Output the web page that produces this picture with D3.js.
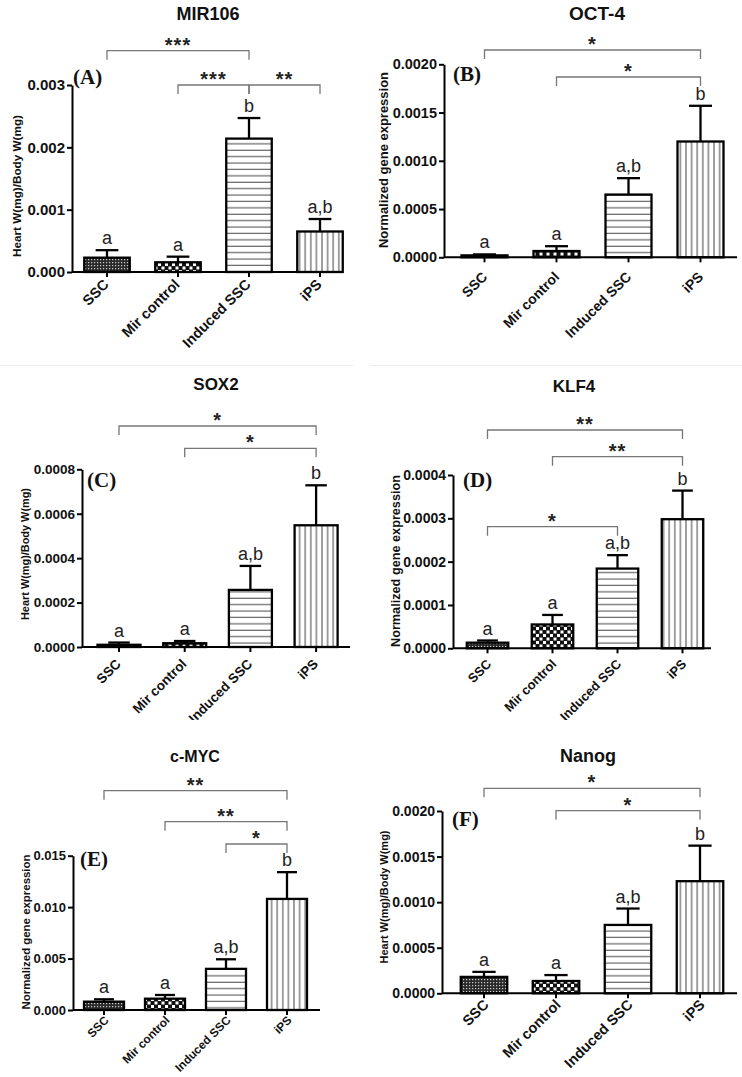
<!DOCTYPE html>
<html><head><meta charset="utf-8">
<script src="https://cdn.jsdelivr.net/npm/d3@7"></script>
<style>body{margin:0;background:#fff}svg{display:block}</style>
</head><body>
<svg id="chart" width="742" height="1077"></svg>
<script>
// ---------- data ----------
const categories = ["SSC", "Mir control", "Induced SSC", "iPS"];
const titles = ["MIR106", "OCT-4", "SOX2", "KLF4", "c-MYC", "Nanog"];
const panelTags = ["(A)", "(B)", "(C)", "(D)", "(E)", "(F)"];
const yTitles = ["Heart W(mg)/Body W(mg)", "Normalized gene expression", "Heart W(mg)/Body W(mg)",
                 "Normalized gene expression", "Normalized gene expression", "Heart W(mg)/Body W(mg)"];

const mir106Mean = [0.00023, 0.000156, 0.00214, 0.00065];
const mir106Sem  = [0.00012, 0.00009, 0.00033, 0.0002];
const oct4Mean   = [0.00002, 0.000065, 0.00065, 0.0012];
const oct4Sem    = [0.00001, 0.00005, 0.00017, 0.00037];
const sox2Mean   = [0.00001, 0.000017, 0.000257, 0.000548];
const sox2Sem    = [0.00001, 0.00001, 0.000108, 0.00018];
const klf4Mean   = [0.000013, 0.000055, 0.000184, 0.000298];
const klf4Sem    = [0.000005, 0.000022, 0.000031, 0.000066];
const cmycMean   = [0.00081, 0.0011, 0.004, 0.0108];
const cmycSem    = [0.00023, 0.00036, 0.00093, 0.0026];
const nanogMean  = [0.00018, 0.000135, 0.00075, 0.00123];
const nanogSem   = [0.000055, 0.000065, 0.00018, 0.00039];

const lettersA = ["a", "a", "b", "a,b"];
const lettersOther = ["a", "a", "a,b", "b"];

const ticksA = [0, 0.001, 0.002, 0.003];
const ticksB = [0, 0.0005, 0.001, 0.0015, 0.002];
const ticksC = [0, 0.0002, 0.0004, 0.0006, 0.0008];
const ticksD = [0, 0.0001, 0.0002, 0.0003, 0.0004];
const ticksE = [0, 0.005, 0.01, 0.015];
const ticksF = [0, 0.0005, 0.001, 0.0015, 0.002];

// [from index, to index, stars]
const bracketsA = [[0, 2, "***"], [1, 2, "***"], [2, 3, "**"]];
const bracketsB = [[0, 3, "*"], [1, 3, "*"]];
const bracketsC = [[0, 3, "*"], [1, 3, "*"]];
const bracketsD = [[0, 3, "**"], [1, 3, "**"], [0, 2, "*"]];
const bracketsE = [[0, 3, "**"], [1, 3, "**"], [2, 3, "*"]];
const bracketsF = [[0, 3, "*"], [1, 3, "*"]];

const panels = [
  {mean: mir106Mean, sem: mir106Sem, letters: lettersA, ticks: ticksA, fmt: ".3f", brackets: bracketsA},
  {mean: oct4Mean, sem: oct4Sem, letters: lettersOther, ticks: ticksB, fmt: ".4f", brackets: bracketsB},
  {mean: sox2Mean, sem: sox2Sem, letters: lettersOther, ticks: ticksC, fmt: ".4f", brackets: bracketsC},
  {mean: klf4Mean, sem: klf4Sem, letters: lettersOther, ticks: ticksD, fmt: ".4f", brackets: bracketsD},
  {mean: cmycMean, sem: cmycSem, letters: lettersOther, ticks: ticksE, fmt: ".3f", brackets: bracketsE},
  {mean: nanogMean, sem: nanogSem, letters: lettersOther, ticks: ticksF, fmt: ".4f", brackets: bracketsF}
];

// ---------- layout (pixel geometry) ----------
const layout = [
  {x0:72, x1:343, c0:107, step:71, bw:45.5, yZero:272, yTop:85, tickFs:15, labFs:14.5, labDx:-0.9, labDy:9.8,
   titleX:208, titleY:20, titleFs:18, tagX:73, tagY:84, ytX:17, ytY:186, ytLen:142, ytFs:11.5, brY:[50.7, 85, 85]},
  {x0:444, x1:737, c0:484.5, step:72, bw:46, yZero:257.3, yTop:64.3, tickFs:14.5, labFs:14, labDx:0.2, labDy:17,
   titleX:597, titleY:20, titleFs:19, tagX:453, tagY:81, ytX:383, ytY:160, ytLen:176, ytFs:13, brY:[50, 77]},
  {x0:82, x1:350, c0:119, step:65.7, bw:43, yZero:647, yTop:469.3, tickFs:13.5, labFs:13.5, labDx:-0.6, labDy:14.5,
   titleX:216, titleY:390, titleFs:17, tagX:87, tagY:487, ytX:25, ytY:554, ytLen:132, ytFs:10.8, brY:[426, 448.3]},
  {x0:453, x1:711, c0:487.5, step:65, bw:41.5, yZero:648.3, yTop:475, tickFs:14, labFs:13, labDx:1.5, labDy:13.4,
   titleX:574, titleY:391.5, titleFs:17, tagX:463, tagY:487, ytX:395.5, ytY:561, ytLen:172, ytFs:12.7, brY:[430, 456.7, 526.7]},
  {x0:73, x1:320, c0:104, step:61, bw:40, yZero:1010, yTop:855.7, tickFs:13, labFs:11.8, labDx:2.5, labDy:8.1,
   titleX:195, titleY:761.5, titleFs:16, tagX:80, tagY:866, ytX:26.5, ytY:932, ytLen:155, ytFs:11.4, brY:[790.7, 821.7, 844]},
  {x0:442, x1:737, c0:484, step:72, bw:46.5, yZero:993.3, yTop:811, tickFs:14, labFs:14.5, labDx:2, labDy:8.8,
   titleX:588, titleY:762, titleFs:18, tagX:452, tagY:826, ytX:384.5, ytY:897, ytLen:133, ytFs:10.8, brY:[788.3, 810.7]}
];

const SANS = "'Liberation Sans', Arial, sans-serif";
const SERIF = "'Liberation Serif', 'Times New Roman', serif";

const svg = d3.select("#chart");
const defs = svg.append("defs");

// patterns
const pSSC = defs.append("pattern").attr("id", "pat0").attr("patternUnits", "userSpaceOnUse").attr("width", 3).attr("height", 3);
pSSC.append("rect").attr("width", 3).attr("height", 3).attr("fill", "#2a2a2a");
pSSC.append("rect").attr("x", 1).attr("y", 1).attr("width", 1.2).attr("height", 1.2).attr("fill", "#cfcfcf");

const pMir = defs.append("pattern").attr("id", "pat1").attr("patternUnits", "userSpaceOnUse").attr("width", 7).attr("height", 7);
pMir.append("rect").attr("width", 7).attr("height", 7).attr("fill", "#111");
pMir.append("rect").attr("x", 0.5).attr("y", 0.5).attr("width", 3).attr("height", 3).attr("fill", "#fff");
pMir.append("rect").attr("x", 4).attr("y", 4).attr("width", 3).attr("height", 3).attr("fill", "#fff");

const pInd = defs.append("pattern").attr("id", "pat2").attr("patternUnits", "userSpaceOnUse").attr("width", 10).attr("height", 6.4);
pInd.append("rect").attr("width", 10).attr("height", 6.4).attr("fill", "#fff");
pInd.append("line").attr("x1", 0).attr("x2", 10).attr("y1", 3).attr("y2", 3).attr("stroke", "#444").attr("stroke-width", 1);

const pIps = defs.append("pattern").attr("id", "pat3").attr("patternUnits", "userSpaceOnUse").attr("width", 5.6).attr("height", 10);
pIps.append("rect").attr("width", 5.6).attr("height", 10).attr("fill", "#fff");
pIps.append("line").attr("y1", 0).attr("y2", 10).attr("x1", 2.8).attr("x2", 2.8).attr("stroke", "#444").attr("stroke-width", 1);

defs.append("clipPath").attr("id", "row2clip").append("rect").attr("x", 0).attr("y", 366).attr("width", 742).attr("height", 354);

// faint separator line at top of second row
svg.append("line").attr("x1", 0).attr("x2", 353).attr("y1", 365.5).attr("y2", 365.5).attr("stroke", "#ececec").attr("stroke-width", 1);
svg.append("line").attr("x1", 371).attr("x2", 742).attr("y1", 365.5).attr("y2", 365.5).attr("stroke", "#ececec").attr("stroke-width", 1);

panels.forEach((p, i) => {
  const L = layout[i];
  const g = svg.append("g");
  if (i === 2 || i === 3) g.attr("clip-path", "url(#row2clip)");

  const pi = 1 - L.bw / L.step;
  const x = d3.scaleBand().domain(categories)
    .range([L.c0 - L.step / 2, L.c0 - L.step / 2 + 4 * L.step])
    .paddingInner(pi).paddingOuter(pi / 2);
  const y = d3.scaleLinear().domain([0, p.ticks[p.ticks.length - 1]]).range([L.yZero, L.yTop]);
  const cx = c => x(c) + x.bandwidth() / 2;

  // bars
  g.selectAll("rect.bar").data(categories).join("rect")
    .attr("class", "bar")
    .attr("x", c => x(c))
    .attr("width", x.bandwidth())
    .attr("y", (c, k) => y(p.mean[k]))
    .attr("height", (c, k) => L.yZero - y(p.mean[k]))
    .attr("fill", (c, k) => `url(#pat${k})`)
    .attr("stroke", "#000").attr("stroke-width", 2.3);

  // error bars
  const eb = g.selectAll("g.err").data(categories).join("g").attr("class", "err");
  eb.append("line")
    .attr("x1", c => cx(c)).attr("x2", c => cx(c))
    .attr("y1", (c, k) => y(p.mean[k])).attr("y2", (c, k) => y(p.mean[k] + p.sem[k]))
    .attr("stroke", "#000").attr("stroke-width", 2.3);
  eb.append("line")
    .attr("x1", c => cx(c) - x.bandwidth() / 4).attr("x2", c => cx(c) + x.bandwidth() / 4)
    .attr("y1", (c, k) => y(p.mean[k] + p.sem[k])).attr("y2", (c, k) => y(p.mean[k] + p.sem[k]))
    .attr("stroke", "#000").attr("stroke-width", 2.3);

  // significance letters
  g.selectAll("text.letter").data(categories).join("text")
    .attr("class", "letter")
    .attr("x", c => cx(c))
    .attr("y", (c, k) => y(p.mean[k] + p.sem[k]) - 6)
    .attr("text-anchor", "middle")
    .style("font-family", SANS).style("font-size", "18px").attr("fill", "#222")
    .text((c, k) => p.letters[k]);

  // y axis
  const ya = g.append("g").attr("transform", `translate(${L.x0},0)`)
    .call(d3.axisLeft(y).tickValues(p.ticks).tickFormat(d3.format(p.fmt)).tickSize(5).tickSizeOuter(0).tickPadding(2));
  ya.select(".domain").attr("stroke-width", 2);
  ya.selectAll(".tick line").attr("stroke-width", 2);
  ya.selectAll(".tick text").style("font-family", SANS).style("font-weight", "bold")
    .style("font-size", L.tickFs + "px").attr("fill", "#111");

  // x axis
  const xa = g.append("g").attr("transform", `translate(0,${L.yZero})`)
    .call(d3.axisBottom(x).tickSize(5).tickSizeOuter(0));
  xa.select(".domain").attr("d", `M${L.x0},0H${L.x1}`).attr("stroke-width", 2);
  xa.selectAll(".tick line").attr("stroke-width", 2);
  xa.selectAll(".tick text")
    .attr("x", 0).attr("y", 0).attr("dy", "0.35em")
    .attr("transform", `translate(${L.labDx},${L.labDy}) rotate(-45)`)
    .style("text-anchor", "end")
    .style("font-family", SANS).style("font-weight", "bold")
    .style("font-size", L.labFs + "px").attr("fill", "#111");

  // y axis title
  g.append("text")
    .attr("transform", `translate(${L.ytX + L.ytFs * 0.35},${L.ytY}) rotate(-90)`)
    .attr("text-anchor", "middle")
    .attr("textLength", L.ytLen).attr("lengthAdjust", "spacingAndGlyphs")
    .style("font-family", SANS).style("font-weight", "bold").style("font-size", L.ytFs + "px")
    .attr("fill", "#111")
    .text(yTitles[i]);

  // title
  g.append("text").attr("x", L.titleX).attr("y", L.titleY).attr("text-anchor", "middle")
    .style("font-family", SANS).style("font-weight", "bold").style("font-size", L.titleFs + "px")
    .attr("fill", "#111").text(titles[i]);

  // panel tag
  g.append("text").attr("x", L.tagX).attr("y", L.tagY)
    .style("font-family", SERIF).style("font-weight", "bold").style("font-size", "21px")
    .attr("fill", "#111").text(panelTags[i]);

  // significance brackets
  p.brackets.forEach((b, j) => {
    const xa1 = cx(categories[b[0]]), xa2 = cx(categories[b[1]]);
    const ly = L.brY[j];
    g.append("path")
      .attr("d", `M${xa1},${ly + 9}V${ly}H${xa2}V${ly + 9}`)
      .attr("fill", "none").attr("stroke", "#777").attr("stroke-width", 1.3);
    g.append("text").attr("x", (xa1 + xa2) / 2).attr("y", ly + 1)
      .attr("text-anchor", "middle")
      .style("font-family", SANS).style("font-weight", "bold").style("font-size", "20px")
      .style("letter-spacing", "1px")
      .attr("fill", "#222").text(b[2]);
  });
});
</script>
</body></html>
